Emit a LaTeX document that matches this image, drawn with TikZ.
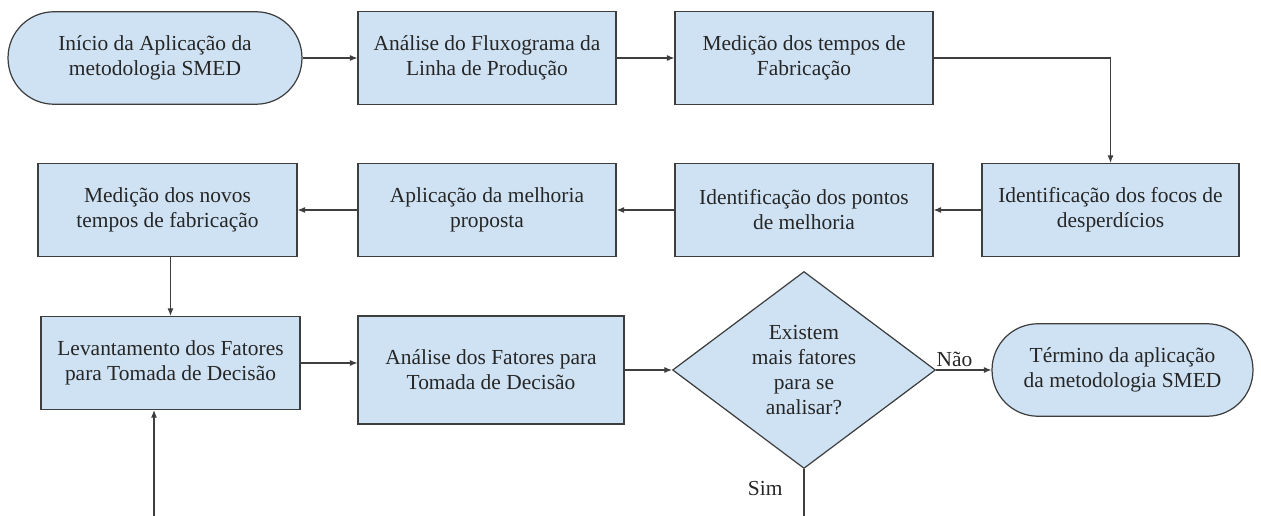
\documentclass[tikz,border=0pt]{standalone}
\usepackage{fontspec}
\setmainfont{LiberationSerif}[Extension=.ttf,UprightFont=*-Regular,BoldFont=*-Bold]
\usepackage{tikz}
\usetikzlibrary{arrows.meta,shapes.geometric}
\definecolor{boxblue}{RGB}{207,226,243}
\definecolor{edgegray}{RGB}{62,62,62}
\tikzset{
  procbox/.style={draw=edgegray,fill=boxblue,line width=0.7pt,align=center,
    minimum height=1.86cm,inner sep=0pt,text=black!85,
    font=\rmfamily\fontsize{12.2}{14.3}\selectfont},
  termbox/.style={procbox,rounded corners=0.92cm,minimum height=1.85cm},
  decbox/.style={procbox,diamond,aspect=1.33,minimum width=5.26cm,minimum height=3.94cm},
  flow/.style={draw=edgegray,line width=0.6pt,-{Latex[length=1.5mm,width=1.2mm]}},
  lbl/.style={inner sep=0pt,text=black!85,font=\rmfamily\fontsize{12.2}{14.3}\selectfont}
}

\begin{document}
\begin{tikzpicture}[x=0.02cm,y=-0.02cm]
    \useasboundingbox(0,0)rectangle(1261,516);
    % first row
    \node[termbox,minimum width=5.88cm](start)at(155,58){Início da Aplicação da\\metodologia SMED};
    \node[procbox,minimum width=5.16cm](fluxo)at(487,58){Análise do Fluxograma da\\Linha de Produção};
    \node[procbox,minimum width=5.16cm](tempos)at(804,58){Medição dos tempos de\\Fabricação};
    % second row
    \node[procbox,minimum width=5.14cm](focos)at(1110.5,210){Identificação dos focos de\\desperdícios};
    \node[procbox,minimum width=5.16cm](pontos)at(804,210){Identificação dos pontos\\de melhoria};
    \node[procbox,minimum width=5.16cm](aplic)at(487,210){Aplicação da melhoria\\proposta};
    \node[procbox,minimum width=5.18cm](novos)at(167.5,210){Medição dos novos\\tempos de fabricação};
    % third row
    \node[procbox,minimum width=5.18cm](lev)at(170.5,363){Levantamento dos Fatores\\para Tomada de Decisão};
    \node[procbox,minimum width=5.32cm,minimum height=2.16cm](fatores)at(491,370){Análise dos Fatores para\\Tomada de Decisão};
    \node[decbox](dec)at(804,370){Existem\\mais fatores\\para se\\analisar?};
    \node[termbox,minimum width=5.22cm](fim)at(1122.5,370){Término da aplicação\\da metodologia SMED};
    \coordinate(simEnd)at(804,516);
    \coordinate(loopEnd)at(154,516);
    % connectors
    \draw[flow](start)--(fluxo);
    \draw[flow](fluxo)--(tempos);
    \draw[flow](tempos.east)-|(focos.north);
    \draw[flow](focos)--(pontos);
    \draw[flow](pontos)--(aplic);
    \draw[flow](aplic)--(novos);
    \draw[flow](lev.north|-novos.south)--(lev.north);
    \draw[flow](lev.east)--(lev.east-|fatores.west);
    \draw[flow](fatores.east)--(dec.west);
    \draw[flow](dec.east)node[lbl,anchor=south west,yshift=1.5pt]{Não}--(fim.west);
    \draw[draw=edgegray,line width=0.6pt](dec.south)--(simEnd)node[lbl,pos=0.42,left=0.42cm]{Sim};
    \draw[flow](loopEnd)--(loopEnd|-lev.south);
\end{tikzpicture}
\end{document}
